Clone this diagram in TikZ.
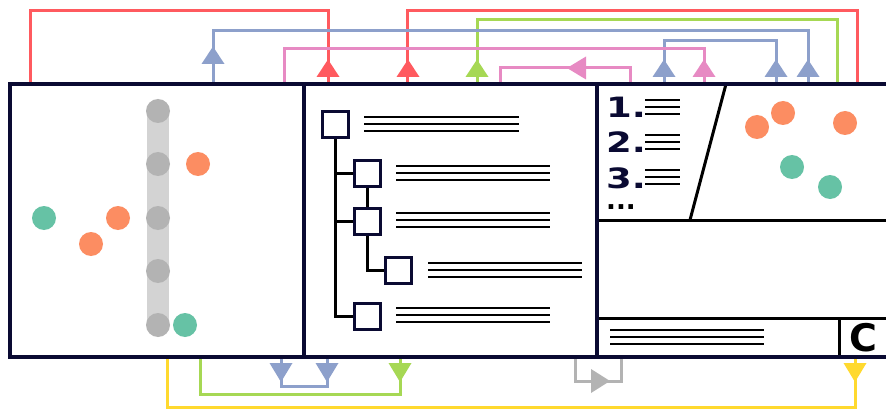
\documentclass[tikz,border=0pt]{standalone}
\usepackage{fontspec}
\newfontfamily\numfont{DejaVu Sans}
\definecolor{cred}{HTML}{FF5A5F}
\definecolor{cblue}{HTML}{8DA0CB}
\definecolor{cpink}{HTML}{E78AC3}
\definecolor{cgreen}{HTML}{A6D854}
\definecolor{cyellow}{HTML}{FFD92F}
\definecolor{cgray}{HTML}{B3B3B3}
\definecolor{corange}{HTML}{FC8D62}
\definecolor{cteal}{HTML}{66C2A5}
\definecolor{cnavy}{HTML}{0A0A32}
\definecolor{cbar}{HTML}{D3D3D3}
\tikzset{
  conn/.style={line width=3pt},
  border/.style={draw=cnavy,line width=3.2pt},
  inner/.style={draw=black,line width=3pt},
  txtline/.style={draw=black,line width=2.6pt},
  sq/.style={draw=cnavy,line width=3pt,fill=white,minimum size=26pt,inner sep=0pt},
  uparr/.pic={\fill (-11.5,0) -- (11.5,0) -- (0,-17.5) -- cycle;},
  dnarr/.pic={\fill (-11.5,0) -- (11.5,0) -- (0,19) -- cycle;},
  rtarr/.pic={\fill (0,-12) -- (0,12) -- (19,0) -- cycle;},
  ltarr/.pic={\fill (0,-11.5) -- (0,11.5) -- (-19,0) -- cycle;},
  dot/.style={circle,inner sep=0pt,minimum size=24pt},
  num/.style={anchor=base west,inner sep=0pt,text=cnavy,text depth=0pt,font=\numfont\bfseries\fontsize{28}{28}\selectfont},
}
\begin{document}
\begin{tikzpicture}[x=1pt,y=-1pt]
\useasboundingbox (0,0) rectangle (886,409);
% ---- top connectors
\draw[conn,cred] (30,84) |- (328,11) -- (328,84);
\draw[conn,cred] (407,84) |- (857,11) -- (857,84);
\draw[conn,cgreen] (477,84) |- (837,20) -- (837,84);
\draw[conn,cblue] (213,84) |- (808,31) -- (808,84);
\draw[conn,cblue] (664,84) |- (776,41) -- (776,84);
\draw[conn,cpink] (284,84) |- (704,49) -- (704,84);
\draw[conn,cpink] (500,84) |- (630,68) -- (630,84);
\pic[fill=cred] at (328,77) {uparr};
\pic[fill=cred] at (408,77) {uparr};
\pic[fill=cgreen] at (477,77) {uparr};
\pic[fill=cblue] at (213,64) {uparr};
\pic[fill=cblue] at (664,77) {uparr};
\pic[fill=cblue] at (776,77) {uparr};
\pic[fill=cblue] at (808,77) {uparr};
\pic[fill=cpink] at (704,77) {uparr};
\pic[fill=cpink] at (586,68) {ltarr};
% ---- bottom connectors
\draw[conn,cyellow] (167,357) |- (855,407) -- (855,357);
\draw[conn,cgreen] (200,357) |- (400,394) -- (400,357);
\draw[conn,cblue] (281,357) |- (327,386) -- (327,357);
\draw[conn,cgray] (575,357) |- (621,381) -- (621,357);
\pic[fill=cyellow] at (855,363) {dnarr};
\pic[fill=cgreen] at (400,363) {dnarr};
\pic[fill=cblue] at (281,363) {dnarr};
\pic[fill=cblue] at (327,363) {dnarr};
\pic[fill=cgray] at (591,381) {rtarr};
% ---- panels
\fill[white] (10,84) rectangle (895,357);
% left panel
\fill[cbar] (147,111) rectangle (169,325);
\foreach \yy in {111,164,218,271,325} \node[dot,fill=cgray] at (158,\yy) {};
\node[dot,fill=corange] at (198,164) {};
\node[dot,fill=corange] at (118,218) {};
\node[dot,fill=corange] at (91,244) {};
\node[dot,fill=cteal] at (44,218) {};
\node[dot,fill=cteal] at (185,325) {};
% middle panel tree
\node[sq] (s1) at (335,124.5) {};
\node[sq] (s2) at (367,173) {};
\node[sq] (s3) at (367,221) {};
\node[sq] (s4) at (398,270) {};
\node[sq] (s5) at (367,316) {};
\draw[inner] (s1.south) -- (s1.south |- s5) -- (s5.west);
\draw[inner] (s1.south |- s2) -- (s2.west);
\draw[inner] (s1.south |- s3) -- (s3.west);
\draw[inner] (s2.south) -- (s3.north);
\draw[inner] (s3.south) |- (s4.west);
\foreach \dy in {-7,0,7} {
  \draw[txtline] (364,124+\dy) -- (519,124+\dy);
  \draw[txtline] (396,173+\dy) -- (550,173+\dy);
  \draw[txtline] (396,220+\dy) -- (550,220+\dy);
  \draw[txtline] (428,270+\dy) -- (582,270+\dy);
  \draw[txtline] (396,315+\dy) -- (550,315+\dy);
}
% right panel
\draw[inner] (597,220) -- (895,220);
\draw[inner] (597,318) -- (895,318);
\draw[inner] (839,318) -- (839,357);
\draw[inner] (726,84) -- (690,220);
\foreach \dy in {0,35,70} {
  \foreach \ly in {100,107,114} \draw[txtline] (645,\ly+\dy) -- (680,\ly+\dy);
}
\foreach \ly in {330,337,344} \draw[txtline] (610,\ly) -- (764,\ly);
\node[num] (n1) at (606,118) {\scalebox{1.32}[1]{1.}};
\node[num] (n2) at (606,153) {\scalebox{1.32}[1]{2.}};
\node[num] (n3) at (606,188) {\scalebox{1.32}[1]{3.}};
\node[num,text=black,text height=7pt,font=\numfont\bfseries\fontsize{26}{26}\selectfont] (n4) at (606,209) {...};
\node[anchor=base west,inner sep=0pt,text=black,font=\numfont\bfseries\fontsize{38}{38}\selectfont] (c) at (849,351) {C};
\node[dot,fill=corange] at (757,127) {};
\node[dot,fill=corange] at (783,113) {};
\node[dot,fill=corange] at (845,123) {};
\node[dot,fill=cteal] at (792,167) {};
\node[dot,fill=cteal] at (830,187) {};
% borders
\draw[border] (10,84) rectangle (895,357);
\draw[border] (304,84) -- (304,357);
\draw[border] (597,84) -- (597,357);
\end{tikzpicture}
\end{document}
